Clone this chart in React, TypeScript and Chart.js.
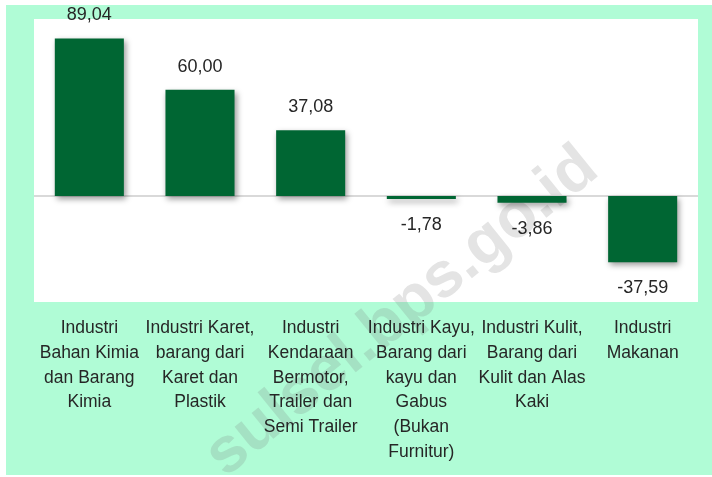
import React, { useEffect, useRef } from "react";
import { Chart, registerables } from "chart.js";

Chart.register(...registerables);

const categories: string[][] = [
  ["Industri", "Bahan Kimia", "dan Barang", "Kimia"],
  ["Industri Karet,", "barang dari", "Karet dan", "Plastik"],
  ["Industri", "Kendaraan", "Bermotor,", "Trailer dan", "Semi Trailer"],
  ["Industri Kayu,", "Barang dari", "kayu dan", "Gabus", "(Bukan", "Furnitur)"],
  ["Industri Kulit,", "Barang dari", "Kulit dan Alas", "Kaki"],
  ["Industri", "Makanan"],
];
const values: number[] = [89.04, 60.0, 37.08, -1.78, -3.86, -37.59];
const valueLabels: string[] = ["89,04", "60,00", "37,08", "-1,78", "-3,86", "-37,59"];
const watermark = "sulsel.bps.go.id";

const MINT = "#b0fcd6";
const BAR = "#006633";
const TEXT = "#262626";
const FONT = "'Liberation Sans', Arial, sans-serif";

export default function App() {
  const ref = useRef<HTMLCanvasElement | null>(null);
  useEffect(() => {
    const canvas = ref.current;
    if (!canvas) return;
    const bgPlugin = {
      id: "bg",
      beforeDraw(chart: any) {
        const { ctx, chartArea } = chart;
        ctx.save();
        ctx.fillStyle = "#ffffff";
        ctx.fillRect(0, 0, chart.width, chart.height);
        ctx.fillStyle = MINT;
        ctx.fillRect(6, 5, chart.width - 6, 470);
        ctx.fillStyle = "#ffffff";
        ctx.fillRect(chartArea.left, chartArea.top, chartArea.right - chartArea.left, chartArea.bottom - chartArea.top);
        // watermark
        ctx.translate(402, 312);
        ctx.rotate((-39 * Math.PI) / 180);
        ctx.font = `bold 64px ${FONT}`;
        ctx.textAlign = "center";
        ctx.textBaseline = "middle";
        ctx.fillStyle = "rgba(120,120,120,0.2)";
        ctx.fillText(watermark, 0, 0);
        ctx.restore();
      },
      beforeDatasetsDraw(chart: any) {
        const { ctx, chartArea, scales } = chart;
        const y0 = scales.y.getPixelForValue(0);
        ctx.save();
        ctx.strokeStyle = "#d9d9d9";
        ctx.lineWidth = 2;
        ctx.beginPath();
        ctx.moveTo(chartArea.left, y0);
        ctx.lineTo(chartArea.right, y0);
        ctx.stroke();
        ctx.restore();
        ctx.save();
        ctx.shadowColor = "rgba(0,0,0,0.4)";
        ctx.shadowBlur = 6;
        ctx.shadowOffsetX = 2;
        ctx.shadowOffsetY = 3;
      },
      afterDatasetsDraw(chart: any) {
        const { ctx } = chart;
        ctx.restore();
        const meta = chart.getDatasetMeta(0);
        ctx.save();
        ctx.font = `18px ${FONT}`;
        ctx.fillStyle = TEXT;
        ctx.textAlign = "center";
        ctx.textBaseline = "middle";
        meta.data.forEach((bar: any, i: number) => {
          const v = values[i];
          const y = v >= 0 ? bar.y - 23 : bar.y + 26;
          ctx.fillText(valueLabels[i], bar.x, y);
        });
        ctx.restore();
      },
    };
    const chart = new Chart(canvas, {
      type: "bar",
      data: {
        labels: categories,
        datasets: [
          {
            data: values,
            backgroundColor: BAR,
            borderWidth: 0,
            categoryPercentage: 0.624,
            barPercentage: 1,
          },
        ],
      },
      options: {
        responsive: false,
        animation: false,
        layout: { padding: { left: 34, right: 14, top: 19, bottom: 0 } },
        plugins: { legend: { display: false }, tooltip: { enabled: false } },
        scales: {
          x: {
            grid: { display: false, drawTicks: false },
            border: { display: false },
            ticks: {
              color: TEXT,
              font: { family: FONT, size: 17.5, lineHeight: 1.41 },
              padding: 14,
              maxRotation: 0,
              autoSkip: false,
            },
            afterFit(scale: any) {
              scale.height = 175;
            },
          },
          y: {
            display: false,
            min: -60,
            max: 100,
          },
        },
      },
      plugins: [bgPlugin],
    });
    return () => chart.destroy();
  }, []);
  return (
    <div style={{ position: "absolute", left: 0, top: 0, width: 712, height: 477 }}>
      <canvas ref={ref} width={712} height={477} style={{ display: "block" }} />
    </div>
  );
}
